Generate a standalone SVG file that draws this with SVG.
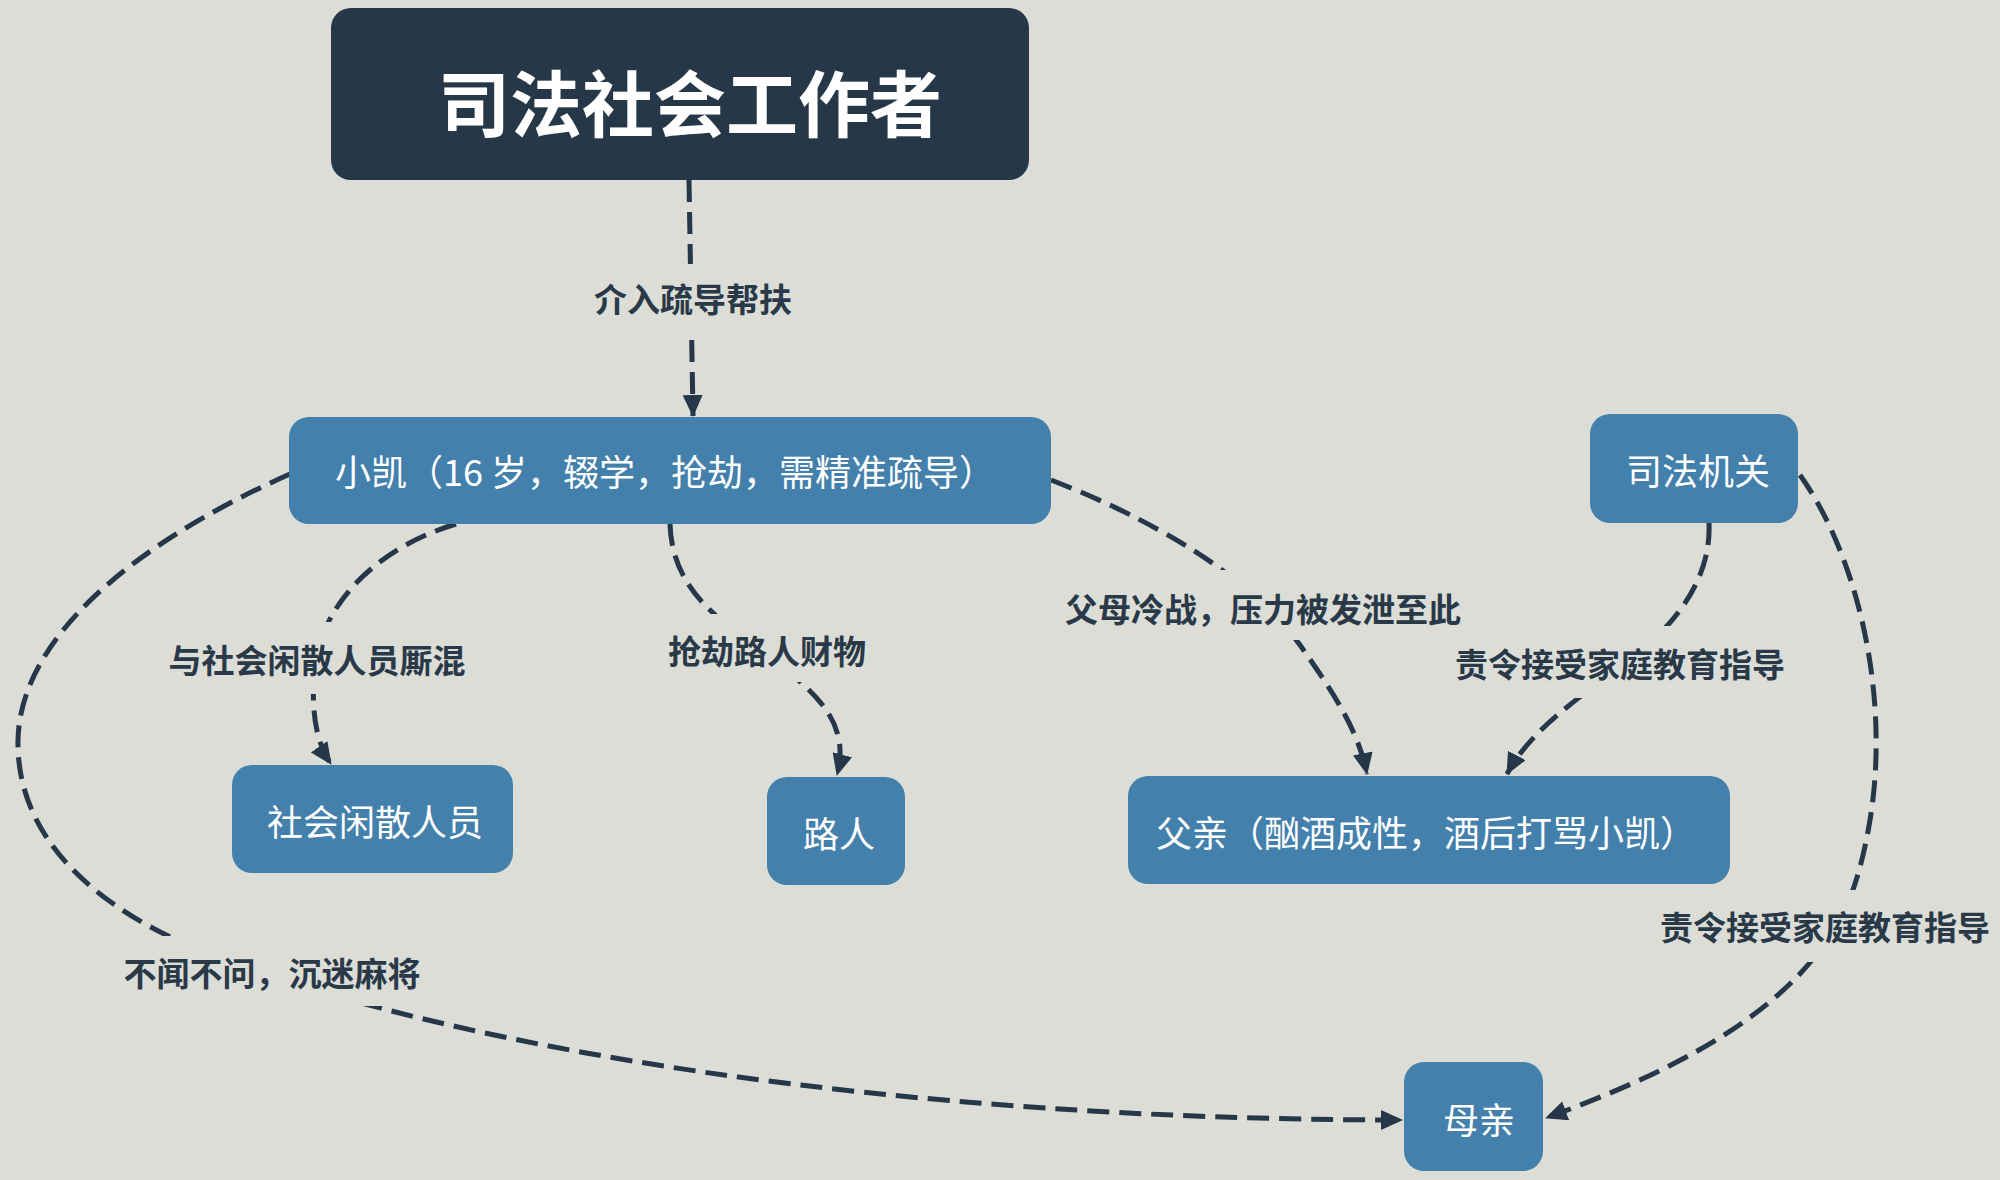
<svg xmlns="http://www.w3.org/2000/svg" width="2000" height="1180" viewBox="0 0 2000 1180">
<defs>
<style>
.bg{fill:#dcddd7}
.title rect{fill:#263848}
.title text{fill:#ffffff;font-family:"Noto Sans CJK SC","Noto Sans",sans-serif;font-weight:700;font-size:72px;text-anchor:middle;dominant-baseline:central}
.node rect{fill:#4380ab}
.node text{fill:#ffffff;font-family:"Noto Sans CJK SC","Noto Sans",sans-serif;font-weight:400;font-size:36px;text-anchor:middle;dominant-baseline:central}
.edge{fill:none;stroke:#253748;stroke-width:5;stroke-dasharray:22 10;marker-end:url(#arrow)}
.halo{fill:#dcddd7}
.lbl{fill:#2a3947;font-family:"Noto Sans CJK SC","Noto Sans",sans-serif;font-weight:700;font-size:33px;text-anchor:middle;dominant-baseline:central}
</style>
<marker id="arrow" markerUnits="userSpaceOnUse" markerWidth="22" markerHeight="20" viewBox="0 0 22 20" refX="21" refY="10" orient="auto">
<path d="M0,0 L22,10 L0,20 z" fill="#253748"/>
</marker>
</defs>
<rect class="bg" x="0" y="0" width="2000" height="1180"/>

<g id="connectors">
<path class="edge" d="M689,180 L693,416"/>
<path class="edge" d="M456,524 C 370,550 320,610 314,670 C 311,720 318,745 331,764"/>
<path class="edge" d="M670,524 C 672,590 720,620 760,650 C 810,688 852,718 837,775"/>
<path class="edge" d="M1051,480 C 1180,530 1260,590 1300,645 C 1335,695 1358,730 1367,774"/>
<path class="edge" d="M1709,523 C 1712,590 1660,640 1610,675 C 1560,710 1525,740 1507,774"/>
<path class="edge" d="M1800,475 C 1860,560 1890,700 1870,820 C 1860,880 1845,920 1820,950 C 1760,1030 1650,1080 1546,1118"/>
<path class="edge" d="M290,474 C 130,545 20,640 18,740 C 16,840 100,910 200,950 C 450,1050 900,1120 1402,1120"/>
</g>

<g id="edge-labels">
<rect class="halo" x="585" y="264" width="216" height="68"/>
<text class="lbl" x="693" y="298">介入疏导帮扶</text>
<rect class="halo" x="159" y="622" width="317" height="72"/>
<text class="lbl" x="317" y="659">与社会闲散人员厮混</text>
<rect class="halo" x="658" y="614" width="218" height="68"/>
<text class="lbl" x="767" y="650">抢劫路人财物</text>
<rect class="halo" x="1055" y="570" width="418" height="70"/>
<text class="lbl" x="1263" y="608">父母冷战，压力被发泄至此</text>
<rect class="halo" x="1444" y="626" width="352" height="72"/>
<text class="lbl" x="1620" y="663">责令接受家庭教育指导</text>
<rect class="halo" x="1650" y="890" width="350" height="72"/>
<text class="lbl" x="1825" y="926">责令接受家庭教育指导</text>
<rect class="halo" x="111" y="936" width="321" height="70"/>
<text class="lbl" x="272" y="972">不闻不问，沉迷麻将</text>
</g>

<g id="node-title" class="title">
<rect x="331" y="8" width="698" height="172" rx="20" ry="20"/>
<text x="690" y="99">司法社会工作者</text>
</g>
<g id="node-xiaokai" class="node">
<rect x="289" y="417" width="762" height="107" rx="20" ry="20"/>
<text x="665" y="470">小凯（16 岁，辍学，抢劫，需精准疏导）</text>
</g>
<g id="node-sifajiguan" class="node">
<rect x="1590" y="414" width="208" height="109" rx="20" ry="20"/>
<text x="1698" y="469">司法机关</text>
</g>
<g id="node-xiansan" class="node">
<rect x="232" y="765" width="281" height="108" rx="20" ry="20"/>
<text x="375" y="820">社会闲散人员</text>
</g>
<g id="node-luren" class="node">
<rect x="767" y="777" width="138" height="108" rx="20" ry="20"/>
<text x="839" y="832">路人</text>
</g>
<g id="node-fuqin" class="node">
<rect x="1128" y="776" width="602" height="108" rx="20" ry="20"/>
<text x="1426" y="831">父亲（酗酒成性，酒后打骂小凯）</text>
</g>
<g id="node-muqin" class="node">
<rect x="1404" y="1062" width="139" height="109" rx="20" ry="20"/>
<text x="1479" y="1118">母亲</text>
</g>
</svg>
